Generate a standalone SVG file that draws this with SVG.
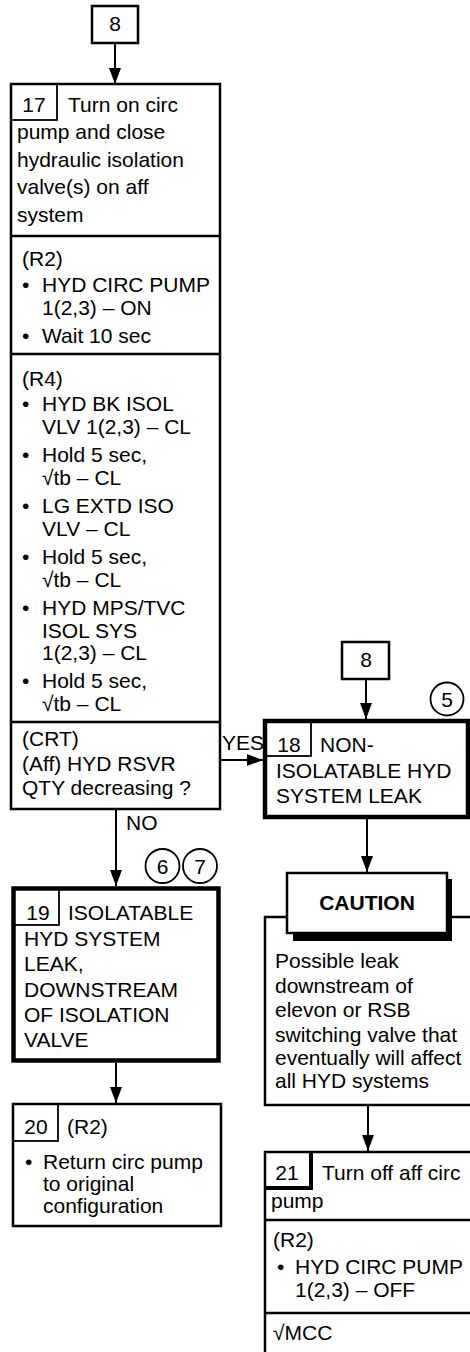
<svg xmlns="http://www.w3.org/2000/svg" width="470" height="1352" viewBox="0 0 470 1352">
<style>
.t{font-family:"Liberation Sans",Arial,sans-serif;font-size:21px;fill:#000}
.c{text-anchor:middle}
.b{font-weight:bold}
.box{fill:#fff;stroke:#000;stroke-width:2.5}
.thick{fill:#fff;stroke:#000;stroke-width:4.5}
.lbl{fill:none;stroke:#000;stroke-width:1.8}
.div{stroke:#000;stroke-width:2.5}
.cir{fill:#fff;stroke:#000;stroke-width:1.8}
.con{stroke:#000;stroke-width:2;fill:none;marker-end:url(#ah)}
</style>
<defs>
<marker id="ah" markerUnits="userSpaceOnUse" markerWidth="16" markerHeight="12" refX="16" refY="6" orient="auto">
<path d="M0,0 L16,6 L0,12 z" fill="#000"/>
</marker>
</defs>
<rect width="470" height="1352" fill="#fff"/>

<g id="connectors">
<line class="con" x1="115" y1="43" x2="115" y2="84"/>
<line class="con" x1="366" y1="679" x2="366" y2="719"/>
<line class="con" x1="220" y1="760" x2="263" y2="760"/>
<line class="con" x1="116" y1="809" x2="116" y2="886"/>
<line class="con" x1="367" y1="819" x2="367" y2="872"/>
<line class="con" x1="116" y1="1063" x2="116" y2="1103"/>
<line class="con" x1="368" y1="1105" x2="368" y2="1151"/>
<text class="t" x="222" y="750">YES</text>
<text class="t" x="126" y="830">NO</text>
</g>

<g id="n8a">
<rect class="box" x="92" y="6" width="46" height="37" stroke-width="2"/>
<text class="t c" x="115" y="31">8</text>
</g>

<g id="n17">
<rect class="box" x="11" y="84" width="209" height="725"/>
<rect class="lbl" x="11" y="84" width="46" height="36"/>
<text class="t c" x="34" y="112">17</text>
<text class="t" x="68" y="112">Turn on circ</text>
<text class="t" x="17" y="139">pump and close</text>
<text class="t" x="17" y="167">hydraulic isolation</text>
<text class="t" x="17" y="194">valve(s) on aff</text>
<text class="t" x="17" y="222">system</text>
<line class="div" x1="11" y1="236" x2="220" y2="236"/>
<text class="t" x="22" y="266">(R2)</text>
<text class="t" x="22" y="292">•</text>
<text class="t" x="42" y="292">HYD CIRC PUMP</text>
<text class="t" x="42" y="315">1(2,3) – ON</text>
<text class="t" x="22" y="343">•</text>
<text class="t" x="42" y="343">Wait 10 sec</text>
<line class="div" x1="11" y1="354" x2="220" y2="354"/>
<text class="t" x="22" y="386">(R4)</text>
<text class="t" x="22" y="411">•</text>
<text class="t" x="42" y="411">HYD BK ISOL</text>
<text class="t" x="42" y="433.5">VLV 1(2,3) – CL</text>
<text class="t" x="22" y="462">•</text>
<text class="t" x="42" y="462">Hold 5 sec,</text>
<text class="t" x="42" y="484.5">√tb – CL</text>
<text class="t" x="22" y="513">•</text>
<text class="t" x="42" y="513">LG EXTD ISO</text>
<text class="t" x="42" y="535.5">VLV – CL</text>
<text class="t" x="22" y="564">•</text>
<text class="t" x="42" y="564">Hold 5 sec,</text>
<text class="t" x="42" y="586.5">√tb – CL</text>
<text class="t" x="22" y="615">•</text>
<text class="t" x="42" y="615">HYD MPS/TVC</text>
<text class="t" x="42" y="637.5">ISOL SYS</text>
<text class="t" x="42" y="660">1(2,3) – CL</text>
<text class="t" x="22" y="688">•</text>
<text class="t" x="42" y="688">Hold 5 sec,</text>
<text class="t" x="42" y="711">√tb – CL</text>
<line class="div" x1="11" y1="722" x2="220" y2="722"/>
<text class="t" x="22" y="746">(CRT)</text>
<text class="t" x="22" y="771">(Aff) HYD RSVR</text>
<text class="t" x="22" y="795">QTY decreasing ?</text>
</g>

<g id="n8b">
<rect class="box" x="342" y="642" width="47" height="37" stroke-width="2"/>
<text class="t c" x="366" y="667">8</text>
</g>

<g id="c5">
<circle class="cir" cx="447" cy="699" r="16.5"/>
<text class="t c" x="447" y="706.5">5</text>
</g>

<g id="n18">
<rect class="thick" x="265" y="721" width="203" height="96" stroke-width="4"/>
<rect class="lbl" x="265" y="721" width="46" height="35"/>
<text class="t c" x="289" y="752">18</text>
<text class="t" x="320" y="752">NON-</text>
<text class="t" x="276" y="778">ISOLATABLE HYD</text>
<text class="t" x="276" y="803">SYSTEM LEAK</text>
</g>

<g id="c6">
<circle class="cir" cx="162.5" cy="866" r="17"/>
<text class="t c" x="162.5" y="873.5">6</text>
</g>
<g id="c7">
<circle class="cir" cx="200" cy="866" r="17"/>
<text class="t c" x="200" y="873.5">7</text>
</g>

<g id="n19">
<rect class="thick" x="13.5" y="888.5" width="205" height="172"/>
<rect class="lbl" x="13.5" y="888.5" width="45.5" height="36.5"/>
<text class="t c" x="38" y="920">19</text>
<text class="t" x="68" y="920">ISOLATABLE</text>
<text class="t" x="24" y="946">HYD SYSTEM</text>
<text class="t" x="24" y="971">LEAK,</text>
<text class="t" x="24" y="997">DOWNSTREAM</text>
<text class="t" x="24" y="1022">OF ISOLATION</text>
<text class="t" x="24" y="1047">VALVE</text>
</g>

<g id="caution">
<rect class="box" x="265" y="917" width="230" height="188" stroke-width="2"/>
<rect x="293" y="879" width="159" height="62" fill="#000"/>
<rect class="box" x="287" y="873" width="160" height="60" stroke-width="3"/>
<text class="t c b" x="367" y="910">CAUTION</text>
<text class="t" x="275" y="968">Possible leak</text>
<text class="t" x="275" y="993">downstream of</text>
<text class="t" x="275" y="1017">elevon or RSB</text>
<text class="t" x="275" y="1042">switching valve that</text>
<text class="t" x="275" y="1065">eventually will affect</text>
<text class="t" x="275" y="1088">all HYD systems</text>
</g>

<g id="n20">
<rect class="box" x="13" y="1104" width="208" height="122" stroke-width="2"/>
<rect class="lbl" x="13" y="1104" width="45" height="37"/>
<text class="t c" x="36" y="1134">20</text>
<text class="t" x="67" y="1134">(R2)</text>
<text class="t" x="25" y="1169">•</text>
<text class="t" x="43" y="1169">Return circ pump</text>
<text class="t" x="43" y="1191">to original</text>
<text class="t" x="43" y="1213">configuration</text>
</g>

<g id="n21">
<rect class="box" x="265" y="1152" width="230" height="230" stroke-width="2"/>
<polyline points="266,1188 311,1188 311,1153" fill="none" stroke="#000" stroke-width="4"/>
<text class="t c" x="287" y="1180">21</text>
<text class="t" x="322" y="1180">Turn off aff circ</text>
<text class="t" x="271" y="1208">pump</text>
<line class="div" x1="265" y1="1220" x2="470" y2="1220"/>
<text class="t" x="273" y="1247">(R2)</text>
<text class="t" x="277" y="1274">•</text>
<text class="t" x="295" y="1274">HYD CIRC PUMP</text>
<text class="t" x="295" y="1297">1(2,3) – OFF</text>
<line class="div" x1="265" y1="1313" x2="470" y2="1313"/>
<text class="t" x="273" y="1340">√MCC</text>
</g>
</svg>
